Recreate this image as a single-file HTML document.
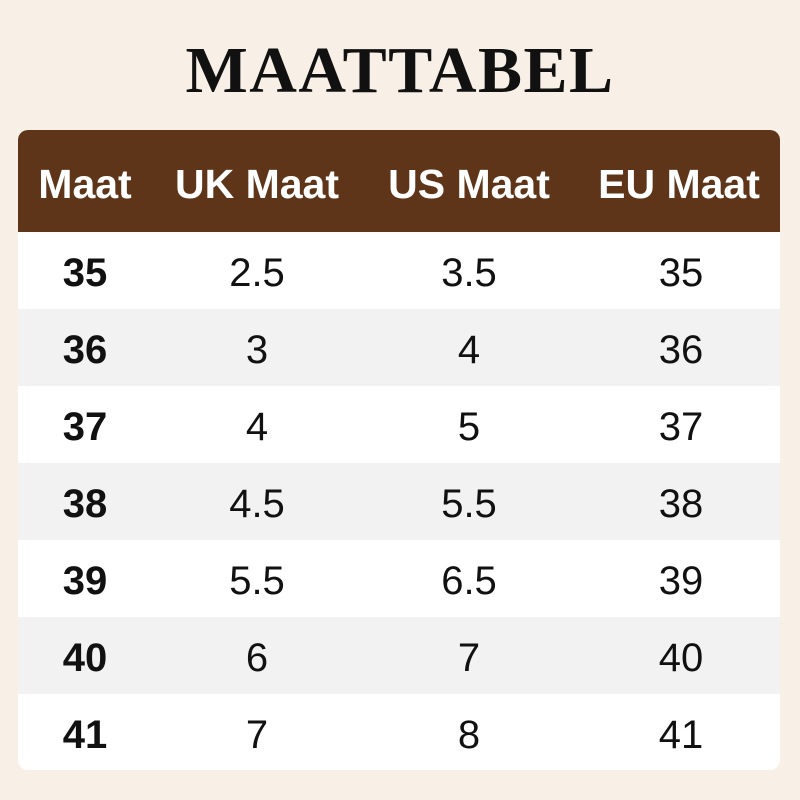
<!DOCTYPE html>
<html><head><style>
body{margin:0;width:800px;height:800px;background:#f8efe6;position:relative;overflow:hidden;font-family:"Liberation Sans",sans-serif}
.t{position:absolute;left:0;width:800px;top:31px;text-align:center;font-family:"Liberation Serif",serif;font-weight:bold;font-size:66px;line-height:80px;letter-spacing:1.5px;color:#111}
.tb{position:absolute;left:18px;top:130px;width:762px;height:640px;border-radius:10px;overflow:hidden;background:#fff}
.h{height:102px;background:#5e3518;color:#fff;font-weight:bold;font-size:41px}
.r{height:77px;font-size:40px;color:#111}
.r:nth-child(odd){background:#f2f2f2}
.row{position:relative}
.row span{position:absolute;transform:translateX(-50%);white-space:nowrap}
.h span{top:31px}
.r span{top:19px}
</style></head><body>
<div class="t">MAATTABEL</div>
<div class="tb">
<div class="row h"><span style="left:67px">Maat</span><span style="left:239px">UK Maat</span><span style="left:451px">US Maat</span><span style="left:661px">EU Maat</span></div>
<div class="row r"><span style="left:67px;font-weight:bold">35</span><span style="left:239px">2.5</span><span style="left:451px">3.5</span><span style="left:663px">35</span></div>
<div class="row r"><span style="left:67px;font-weight:bold">36</span><span style="left:239px">3</span><span style="left:451px">4</span><span style="left:663px">36</span></div>
<div class="row r"><span style="left:67px;font-weight:bold">37</span><span style="left:239px">4</span><span style="left:451px">5</span><span style="left:663px">37</span></div>
<div class="row r"><span style="left:67px;font-weight:bold">38</span><span style="left:239px">4.5</span><span style="left:451px">5.5</span><span style="left:663px">38</span></div>
<div class="row r"><span style="left:67px;font-weight:bold">39</span><span style="left:239px">5.5</span><span style="left:451px">6.5</span><span style="left:663px">39</span></div>
<div class="row r"><span style="left:67px;font-weight:bold">40</span><span style="left:239px">6</span><span style="left:451px">7</span><span style="left:663px">40</span></div>
<div class="row r"><span style="left:67px;font-weight:bold">41</span><span style="left:239px">7</span><span style="left:451px">8</span><span style="left:663px">41</span></div>
</div>
</body></html>
